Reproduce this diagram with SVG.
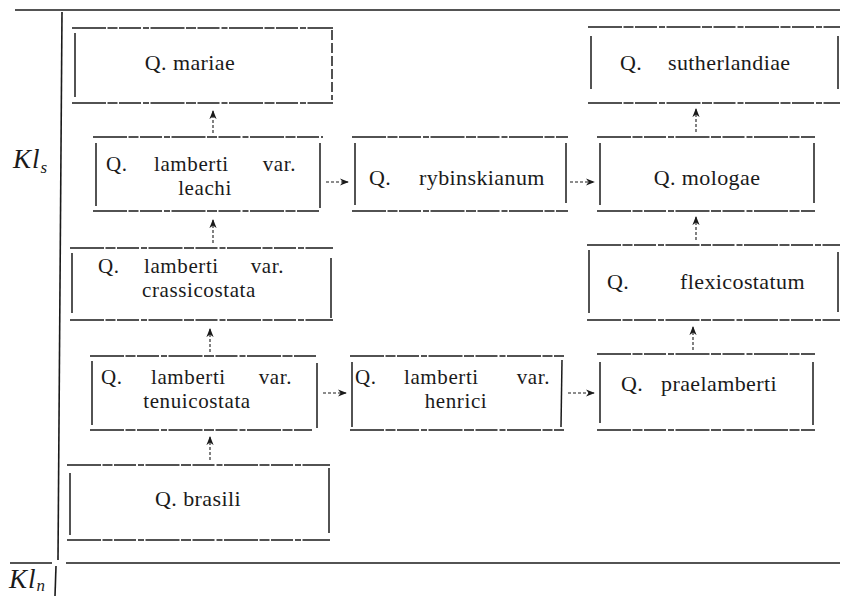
<svg xmlns="http://www.w3.org/2000/svg" width="841" height="596" viewBox="0 0 841 596">
  <style>
    .bg { fill: #ffffff; }
    .h { stroke: #1a1a1a; stroke-width: 1.5; fill: none; stroke-dasharray: 34 1.5 10 1.5 22 2 6 1.5; }
    .v { stroke: #1a1a1a; stroke-width: 1.5; fill: none; }
    .axis { stroke: #1a1a1a; stroke-width: 1.6; fill: none; }
    .conn { stroke: #1a1a1a; stroke-width: 1.1; fill: none; stroke-dasharray: 3 2; }
    text { font-family: "Liberation Serif", "Times New Roman", serif; font-size: 22px; letter-spacing: 0.4px; fill: #1a1a1a; }
    .two text { font-size: 21px; letter-spacing: 0.6px; }
    .mid { text-anchor: middle; }
    .end { text-anchor: end; }
    .idx { font-size: 27px; font-style: italic; letter-spacing: 1px; }
    .sub { font-size: 17px; font-style: italic; letter-spacing: 0; }
  </style>
  <defs>
    <marker id="head" viewBox="0 0 10 8" refX="9" refY="4" markerWidth="9" markerHeight="8" markerUnits="userSpaceOnUse" orient="auto">
      <path d="M0,0 L10,4 L0,8 L3,4 Z" fill="#1a1a1a"/>
    </marker>
  </defs>

  <rect class="bg" x="0" y="0" width="841" height="596"/>

  <!-- stage frame and scale -->
  <g id="frame">
    <line class="axis" x1="15" y1="10" x2="840" y2="10"/>
    <line class="axis" x1="62" y1="12" x2="58" y2="560"/>
    <line class="axis" x1="56" y1="566" x2="55" y2="596"/>
    <line class="axis" x1="66" y1="563" x2="840" y2="563"/>
    <line class="axis" x1="10" y1="563" x2="52" y2="563"/>
    <text class="idx" x="13" y="168">Kl<tspan class="sub" dy="5">s</tspan></text>
    <text class="idx" x="9" y="588">Kl<tspan class="sub" dy="3">n</tspan></text>
  </g>

  <!-- taxa -->
  <g id="mariae">
    <line class="h" x1="72" y1="28" x2="333" y2="28"/>
    <line class="h" x1="72" y1="103" x2="333" y2="103"/>
    <line class="v" x1="75" y1="33" x2="75" y2="97"/>
    <line class="v" x1="332" y1="30" x2="332" y2="100" stroke-dasharray="10 3"/>
    <text class="mid" x="190" y="70">Q.  mariae</text>
  </g>

  <g id="sutherlandiae">
    <line class="h" x1="588" y1="27" x2="840" y2="27"/>
    <line class="h" x1="588" y1="103" x2="840" y2="103"/>
    <line class="v" x1="591" y1="36" x2="591" y2="89"/>
    <line class="v" x1="838" y1="36" x2="838" y2="89"/>
    <text x="620" y="70">Q.</text>
    <text x="668" y="70">sutherlandiae</text>
  </g>

  <g id="leachi" class="two">
    <line class="h" x1="93" y1="137" x2="323" y2="137"/>
    <line class="h" x1="93" y1="211" x2="320" y2="211"/>
    <line class="v" x1="96" y1="143" x2="96" y2="206"/>
    <line class="v" x1="320" y1="143" x2="320" y2="208"/>
    <text x="106" y="171">Q.</text>
    <text x="154" y="171">lamberti</text>
    <text class="end" x="296" y="171">var.</text>
    <text class="mid" x="205" y="195">leachi</text>
  </g>

  <g id="rybinskianum">
    <line class="h" x1="352" y1="137" x2="568" y2="137"/>
    <line class="h" x1="352" y1="211" x2="568" y2="211"/>
    <line class="v" x1="355" y1="143" x2="355" y2="205"/>
    <line class="v" x1="566" y1="143" x2="566" y2="203"/>
    <text x="369" y="185">Q.</text>
    <text x="419" y="185">rybinskianum</text>
  </g>

  <g id="mologae">
    <line class="h" x1="597" y1="137" x2="815" y2="137"/>
    <line class="h" x1="597" y1="211" x2="815" y2="211"/>
    <line class="v" x1="600" y1="143" x2="600" y2="205"/>
    <line class="v" x1="814" y1="143" x2="814" y2="203"/>
    <text class="mid" x="707" y="185">Q.  mologae</text>
  </g>

  <g id="crassicostata" class="two">
    <line class="h" x1="70" y1="248" x2="333" y2="248"/>
    <line class="h" x1="70" y1="320" x2="333" y2="320"/>
    <line class="v" x1="72" y1="253" x2="72" y2="313"/>
    <line class="v" x1="331" y1="258" x2="331" y2="318"/>
    <text x="98" y="273">Q.</text>
    <text x="144" y="273">lamberti</text>
    <text class="end" x="284" y="273">var.</text>
    <text class="mid" x="199" y="297">crassicostata</text>
  </g>

  <g id="flexicostatum">
    <line class="h" x1="587" y1="245" x2="840" y2="245"/>
    <line class="h" x1="587" y1="320" x2="840" y2="320"/>
    <line class="v" x1="589" y1="250" x2="589" y2="313"/>
    <line class="v" x1="838" y1="252" x2="838" y2="312"/>
    <text x="607" y="289">Q.</text>
    <text x="680" y="289">flexicostatum</text>
  </g>

  <g id="tenuicostata" class="two">
    <line class="h" x1="90" y1="356" x2="318" y2="356"/>
    <line class="h" x1="90" y1="430" x2="312" y2="430"/>
    <line class="v" x1="92" y1="361" x2="92" y2="425"/>
    <line class="v" x1="317" y1="363" x2="317" y2="428"/>
    <text x="101" y="384">Q.</text>
    <text x="151" y="384">lamberti</text>
    <text class="end" x="292" y="384">var.</text>
    <text class="mid" x="197" y="408">tenuicostata</text>
  </g>

  <g id="henrici" class="two">
    <line class="h" x1="350" y1="356" x2="564" y2="356"/>
    <line class="h" x1="350" y1="430" x2="564" y2="430"/>
    <line class="v" x1="352" y1="362" x2="352" y2="427"/>
    <line class="v" x1="562" y1="360" x2="561" y2="427"/>
    <text x="355" y="384">Q.</text>
    <text x="404" y="384">lamberti</text>
    <text class="end" x="550" y="384">var.</text>
    <text class="mid" x="456" y="408">henrici</text>
  </g>

  <g id="praelamberti">
    <line class="h" x1="597" y1="354" x2="815" y2="354"/>
    <line class="h" x1="597" y1="430" x2="815" y2="430"/>
    <line class="v" x1="600" y1="362" x2="600" y2="423"/>
    <line class="v" x1="813" y1="362" x2="813" y2="425"/>
    <text x="621" y="391">Q.</text>
    <text x="661" y="391">praelamberti</text>
  </g>

  <g id="brasili">
    <line class="h" x1="67" y1="465" x2="330" y2="465"/>
    <line class="h" x1="67" y1="540" x2="330" y2="540"/>
    <line class="v" x1="70" y1="473" x2="70" y2="535"/>
    <line class="v" x1="329" y1="468" x2="329" y2="533"/>
    <text class="mid" x="198" y="506">Q.  brasili</text>
  </g>

  <!-- lineage arrows -->
  <g id="connectors">
    <line class="conn" x1="213" y1="133" x2="213" y2="111" marker-end="url(#head)"/>
    <line class="conn" x1="213" y1="243" x2="213" y2="220" marker-end="url(#head)"/>
    <line class="conn" x1="210" y1="352" x2="210" y2="329" marker-end="url(#head)"/>
    <line class="conn" x1="210" y1="460" x2="210" y2="437" marker-end="url(#head)"/>
    <line class="conn" x1="696" y1="132" x2="696" y2="109" marker-end="url(#head)"/>
    <line class="conn" x1="696" y1="240" x2="696" y2="217" marker-end="url(#head)"/>
    <line class="conn" x1="693" y1="350" x2="693" y2="327" marker-end="url(#head)"/>
    <line class="conn" x1="326" y1="182" x2="348" y2="182" marker-end="url(#head)"/>
    <line class="conn" x1="570" y1="182" x2="594" y2="182" marker-end="url(#head)"/>
    <line class="conn" x1="323" y1="393" x2="346" y2="393" marker-end="url(#head)"/>
    <line class="conn" x1="568" y1="393" x2="594" y2="393" marker-end="url(#head)"/>
  </g>
</svg>
